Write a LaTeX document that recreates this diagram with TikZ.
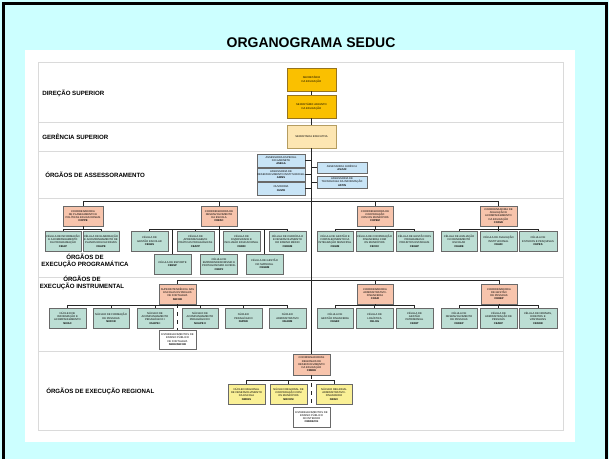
\documentclass[tikz,border=0pt]{standalone}
\usepackage{fontspec}
\setmainfont{Liberation Sans}
\usetikzlibrary{shadows}
\definecolor{bgcyan}{RGB}{204,255,255}
\definecolor{gold}{RGB}{250,192,0}
\definecolor{goldline}{RGB}{150,115,30}
\definecolor{wheat}{RGB}{253,230,178}
\definecolor{lblue}{RGB}{200,228,246}
\definecolor{salmon}{RGB}{247,196,172}
\definecolor{cellc}{RGB}{188,222,212}
\definecolor{lyellow}{RGB}{250,240,150}
\definecolor{sepgray}{RGB}{218,218,218}
\definecolor{boxline}{RGB}{105,105,105}
\newcommand\boxfont{\fontsize{2}{2.45}\selectfont}
\newcommand\bx[7]{\node[#6, minimum width={(#4-#2)*0.75pt}, minimum height={(#5-#3)*0.75pt}] (#1) at ({(#2+#4)/2},{(#3+#5)/2}) {#7};}
\tikzset{
 orgbox/.style={draw=boxline, line width=0.5pt, inner sep=0pt, align=center, font=\boxfont,
   drop shadow={shadow xshift=0.45pt, shadow yshift=-0.45pt, fill=black, opacity=0.35}},
 topbox/.style={orgbox, fill=gold, draw=goldline},
 execbox/.style={orgbox, fill=wheat, draw=goldline!70},
 assbox/.style={orgbox, fill=lblue},
 coordbox/.style={orgbox, fill=salmon},
 cellbox/.style={orgbox, fill=cellc},
 regbox/.style={orgbox, fill=lyellow},
 estbox/.style={orgbox, fill=white},
 link/.style={draw=black!85, line width=0.5pt},
 rowlabel/.style={font=\fontsize{4.6}{5.4}\selectfont\bfseries, align=center, inner sep=0pt},
 sepline/.style={draw=sepgray, line width=0.6pt},
}
\begin{document}
\begin{tikzpicture}[x=0.75pt,y=-0.75pt]
\useasboundingbox (0,0) rectangle (609,459);
\clip (0,0) rectangle (609,459);
\fill[bgcyan] (0,0) rectangle (609,459);
\draw[black, line width=1.8pt] (3.5,470) -- (3.5,3.5) -- (606.5,3.5) -- (606.5,470);
\node[font=\fontsize{10.5}{12.5}\selectfont\bfseries] (title) at (311,43) {ORGANOGRAMA SEDUC};
\fill[white] (25,50) rectangle (575,442);
\draw[sepline] (38,62) rectangle (563,430);
\foreach \yy in {122,151,198,277,351} \draw[sepline] (38,\yy) -- (563,\yy);

% row labels
\node[rowlabel, anchor=west] (ldir) at (42,93) {DIREÇÃO SUPERIOR};
\node[rowlabel, anchor=west] (lger) at (42,137) {GERÊNCIA SUPERIOR};
\node[rowlabel, anchor=west] (lass) at (45,175) {ÓRGÃOS DE ASSESSORAMENTO};
\node[rowlabel] (lprog) at (85,261) {ÓRGÃOS DE\\EXECUÇÃO PROGRAMÁTICA};
\node[rowlabel] (linst) at (82,283) {ÓRGÃOS DE\\EXECUÇÃO INSTRUMENTAL};
\node[rowlabel, anchor=west] (lreg) at (46,391) {ÓRGÃOS DE EXECUÇÃO REGIONAL};

% bus coordinates
\coordinate (pbus) at (0,201);
\coordinate (pcb) at (0,229);
\coordinate (ibus) at (0,280);
\coordinate (isb) at (0,305);
\coordinate (rsb) at (0,380);

% direction
\bx{sec}{287}{68}{336}{91}{topbox}{SECRETÁRIO\\DA EDUCAÇÃO}
\bx{adj}{287}{95}{336}{118}{topbox}{SECRETÁRIO ADJUNTO\\DA EDUCAÇÃO}
\bx{exe}{287}{125}{336}{148}{execbox}{SECRETARIA EXECUTIVA}

% assessoramento
\bx{aeg}{257}{154}{305}{167}{assbox}{ASSESSORIA ESPECIAL\\DO GABINETE\\\textbf{ASEGA}}
\bx{adins}{257}{168}{305}{181}{assbox}{ASSESSORIA DE\\DESENVOLVIMENTO INSTITUCIONAL\\\textbf{ADINS}}
\bx{ouvid}{257}{182}{305}{195}{assbox}{OUVIDORIA\\\textbf{OUVID}}
\bx{asjur}{317}{162}{367}{173}{assbox}{ASSESSORIA JURÍDICA\\\textbf{ASJUR}}
\bx{astin}{317}{176}{367}{188}{assbox}{ASSESSORIA DE\\TECNOLOGIA DA INFORMAÇÃO\\\textbf{ASTIN}}

% programatica
\bx{coppe}{63}{206}{103}{226}{coordbox}{COORDENADORIA\\DE PLANEJAMENTO E\\POLÍTICAS EDUCACIONAIS\\\textbf{COPPE}}
\bx{cdesc}{201}{206}{237}{226}{coordbox}{COORDENADORIA DE\\DESENVOLVIMENTO\\DA ESCOLA\\\textbf{CDESC}}
\bx{copem}{357}{206}{393}{226}{coordbox}{COORDENADORIA DE\\COOPERAÇÃO\\COM OS MUNICÍPIOS\\\textbf{COPEM}}
\bx{coave}{480}{206}{517}{226}{coordbox}{COORDENADORIA DE\\AVALIAÇÃO E\\ACOMPANHAMENTO\\DA EDUCAÇÃO\\\textbf{COAVE}}

\bx{c11}{45}{231}{81}{251}{cellbox}{CÉLULA DE INFORMAÇÃO\\E ACOMPANHAMENTO\\DA PROGRAMAÇÃO\\\textbf{CEIAP}}
\bx{c12}{83}{231}{119}{251}{cellbox}{CÉLULA DE ELABORAÇÃO\\E ACOMPANHAMENTO DE\\PLANOS EDUCACIONAIS\\\textbf{CEAPE}}

\bx{c21}{131}{231}{168}{251}{cellbox}{CÉLULA DE\\GESTÃO ESCOLAR\\\textbf{CEGES}}
\bx{c22}{177}{231}{214}{251}{cellbox}{CÉLULA DE\\APRENDIZAGEM E\\PRÁTICAS PEDAGÓGICAS\\\textbf{CEAPP}}
\bx{c23}{223}{231}{260}{251}{cellbox}{CÉLULA DE\\DIVERSIDADE E\\INCLUSÃO EDUCACIONAL\\\textbf{CEDIN}}
\bx{c24}{269}{231}{306}{251}{cellbox}{CÉLULA DE CURRÍCULO\\E DESENVOLVIMENTO\\DO ENSINO MÉDIO\\\textbf{CEDEM}}
\bx{c25}{154}{254}{191}{274}{cellbox}{CÉLULA DE ESPORTE\\\textbf{CEESP}}
\bx{c26}{200.5}{254}{237.5}{274}{cellbox}{CÉLULA DE\\EMPREENDEDORISMO E\\PROTAGONISMO JUVENIL\\\textbf{CEEPJ}}
\bx{c27}{246}{254}{283}{274}{cellbox}{CÉLULA DE GESTÃO\\DO MATERIAL\\\textbf{CEGEM}}

\bx{c31}{317}{231}{353}{251}{cellbox}{CÉLULA DE GESTÃO E\\FORTALECIMENTO DA\\INTEGRAÇÃO MUNICIPAL\\\textbf{CEGIM}}
\bx{c32}{356}{231}{393}{251}{cellbox}{CÉLULA DE COOPERAÇÃO\\FINANCEIRA COM\\OS MUNICÍPIOS\\\textbf{CECOF}}
\bx{c33}{396}{231}{433}{251}{cellbox}{CÉLULA DE GESTÃO DOS\\PROGRAMAS E\\PROJETOS ESTADUAIS\\\textbf{CEGEP}}

\bx{c41}{441}{231}{477}{251}{cellbox}{CÉLULA DE AVALIAÇÃO\\DO RENDIMENTO\\ESCOLAR\\\textbf{CEARE}}
\bx{c42}{480}{231}{517}{251}{cellbox}{CÉLULA DE AVALIAÇÃO\\INSTITUCIONAL\\\textbf{CEAIN}}
\bx{c43}{519}{231}{557}{251}{cellbox}{CÉLULA DE\\ESTUDOS E PESQUISAS\\\textbf{CEPES}}

% instrumental
\bx{sefor}{159}{284}{196}{304}{coordbox}{SUPERINTENDÊNCIA DAS\\ESCOLAS ESTADUAIS\\DE FORTALEZA\\\textbf{SEFOR}}
\bx{coafi}{357}{284}{393}{304}{coordbox}{COORDENADORIA\\ADMINISTRATIVO-\\FINANCEIRA\\\textbf{COAFI}}
\bx{codep}{481}{284}{517}{304}{coordbox}{COORDENADORIA\\DE GESTÃO\\DE PESSOAS\\\textbf{CODEP}}

\bx{i11}{49}{308}{86}{328}{cellbox}{NÚCLEO DE\\INFORMAÇÃO E\\ACOMPANHAMENTO\\\textbf{NUIAC}}
\bx{i12}{93}{308}{129}{328}{cellbox}{NÚCLEO DE FORMAÇÃO\\DE PESSOAS\\\textbf{NUFOR}}
\bx{i13}{137}{308}{173}{328}{cellbox}{NÚCLEO DE\\ACOMPANHAMENTO\\PEDAGÓGICO I\\\textbf{NUAPE I}}
\bx{i14}{182}{308}{218}{328}{cellbox}{NÚCLEO DE\\ACOMPANHAMENTO\\PEDAGÓGICO II\\\textbf{NUAPE II}}
\bx{i15}{225}{308}{262}{328}{cellbox}{NÚCLEO\\PEDAGÓGICO\\\textbf{NUPED}}
\bx{i16}{269}{308}{306}{328}{cellbox}{NÚCLEO\\ADMINISTRATIVO\\\textbf{NUADM}}
\bx{est1}{159}{330}{196}{349}{estbox}{ESTABELECIMENTOS DE\\ENSINO PÚBLICO\\DE FORTALEZA\\\textbf{SEDE/SEFOR}}

\bx{i21}{317}{308}{353}{328}{cellbox}{CÉLULA DE\\GESTÃO FINANCEIRA\\\textbf{CEGEF}}
\bx{i22}{356}{308}{393}{328}{cellbox}{CÉLULA DE\\LOGÍSTICA\\\textbf{CELOG}}
\bx{i23}{396}{308}{433}{328}{cellbox}{CÉLULA DE\\GESTÃO\\PATRIMONIAL\\\textbf{CEPAT}}

\bx{i31}{441}{308}{477}{328}{cellbox}{CÉLULA DE\\DESENVOLVIMENTO\\DE PESSOAS\\\textbf{CEDEP}}
\bx{i32}{480}{308}{517}{328}{cellbox}{CÉLULA DE\\ADMINISTRAÇÃO DE\\PESSOAS\\\textbf{CEADP}}
\bx{i33}{519}{308}{557}{328}{cellbox}{CÉLULA DE NORMAS,\\DIREITOS E\\VANTAGENS\\\textbf{CENOR}}

% regional
\bx{crede}{293}{354}{330}{375}{coordbox}{COORDENADORIAS\\REGIONAIS DE\\DESENVOLVIMENTO\\DA EDUCAÇÃO\\\textbf{CREDE}}
\bx{r1}{228}{384}{265}{404}{regbox}{NÚCLEO REGIONAL\\DE DESENVOLVIMENTO\\DA ESCOLA\\\textbf{NRDES}}
\bx{r2}{270}{384}{307}{404}{regbox}{NÚCLEO REGIONAL DE\\COOPERAÇÃO COM\\OS MUNICÍPIOS\\\textbf{NRCOM}}
\bx{r3}{316}{384}{352}{404}{regbox}{NÚCLEO REGIONAL\\ADMINISTRATIVO-\\FINANCEIRO\\\textbf{NRAFI}}
\bx{est2}{293}{407}{330}{427}{estbox}{ESTABELECIMENTOS DE\\ENSINO PÚBLICO\\DO INTERIOR\\\textbf{CREDE/CE}}

% connectors
\draw[link] (sec) -- (adj);
\draw[link] (adj) -- (exe);
\draw[link] (exe.south) -- (crede.north);
\foreach \n in {aeg,adins,ouvid} \draw[link] (\n.east) -- (\n.east -| exe.south);
\foreach \n in {asjur,astin} \draw[link] (\n.west) -- (\n.west -| exe.south);

\draw[link] (coppe.north) -- (coppe.north |- pbus) -- (coave.north |- pbus) -- (coave.north);
\foreach \n in {cdesc,copem} \draw[link] (\n.north) -- (\n.north |- pbus);

\draw[link] (coppe.south) -- (coppe.south |- pcb);
\draw[link] (c11.north) -- (c11.north |- pcb) -- (c12.north |- pcb) -- (c12.north);
\draw[link] (cdesc.south) -- (c26.north);
\draw[link] (c21.north) -- (c21.north |- pcb) -- (c24.north |- pcb) -- (c24.north);
\foreach \n in {c22,c23,c25,c27} \draw[link] (\n.north) -- (\n.north |- pcb);
\draw[link] (copem.south) -- (copem.south |- pcb);
\draw[link] (c31.north) -- (c31.north |- pcb) -- (c33.north |- pcb) -- (c33.north);
\draw[link] (c32.north) -- (c32.north |- pcb);
\draw[link] (coave.south) -- (coave.south |- pcb);
\draw[link] (c41.north) -- (c41.north |- pcb) -- (c43.north |- pcb) -- (c43.north);
\draw[link] (c42.north) -- (c42.north |- pcb);

\draw[link] (sefor.north) -- (sefor.north |- ibus) -- (codep.north |- ibus) -- (codep.north);
\draw[link] (coafi.north) -- (coafi.north |- ibus);
\draw[link, dashed] (sefor.south) -- (est1.north);
\draw[link] (i11.north) -- (i11.north |- isb) -- (i16.north |- isb) -- (i16.north);
\foreach \n in {i12,i13,i14,i15} \draw[link] (\n.north) -- (\n.north |- isb);
\draw[link] (coafi.south) -- (coafi.south |- isb);
\draw[link] (i21.north) -- (i21.north |- isb) -- (i23.north |- isb) -- (i23.north);
\draw[link] (i22.north) -- (i22.north |- isb);
\draw[link] (codep.south) -- (codep.south |- isb);
\draw[link] (i31.north) -- (i31.north |- isb) -- (i33.north |- isb) -- (i33.north);
\draw[link] (i32.north) -- (i32.north |- isb);

\draw[link, dashed] (crede.south) -- (est2.north);
\draw[link] (r1.north) -- (r1.north |- rsb) -- (r3.north |- rsb) -- (r3.north);
\draw[link] (r2.north) -- (r2.north |- rsb);
\end{tikzpicture}
\end{document}
